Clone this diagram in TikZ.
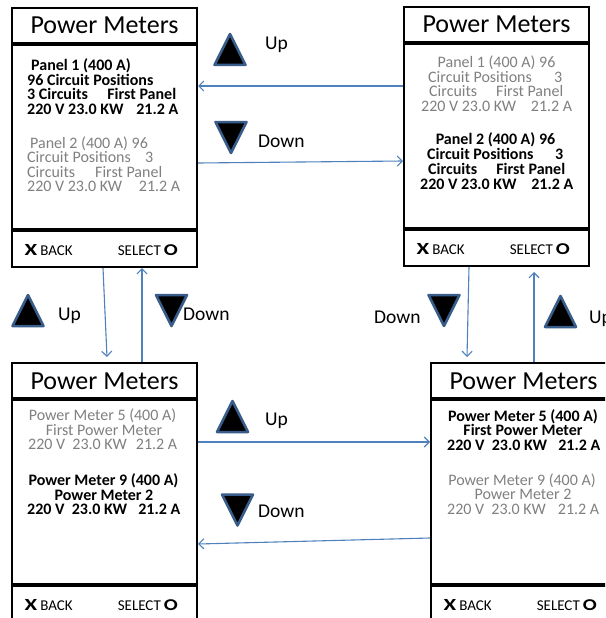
\documentclass[tikz,border=0pt]{standalone}
\usepackage{fontspec}
\setmainfont{Carlito}
\usepackage{graphicx}
\usetikzlibrary{calc,arrows.meta}
\definecolor{pmgray}{RGB}{128,128,128}
\definecolor{arrblue}{RGB}{79,129,189}
\definecolor{triblue}{RGB}{56,93,138}
\newcommand\pmbody{\fontsize{16}{17}\selectfont}
\newcommand\pmtitle{\fontsize{26}{28}\selectfont}
\newcommand\pmlabel{\fontsize{19.5}{20}\selectfont}
\newcommand\backtext{{\bfseries\fontsize{17}{17}\selectfont\scalebox{1.35}[1]{X}}\hspace{3pt}{\fontsize{15}{15}\selectfont BACK}}
\newcommand\seltext{{\fontsize{15}{15}\selectfont SELECT}\hspace{3pt}{\bfseries\fontsize{16.5}{16}\selectfont\scalebox{1.25}[1]{O}}}
\tikzset{
 screenbox/.style={draw=black, line width=2pt, minimum width=185pt, minimum height=259pt, inner sep=0pt, fill=white},
 sepline/.style={line width=4pt},
 ttl/.style={font=\pmtitle, inner sep=0pt, anchor=base},
 bl/.style={font=\pmbody\bfseries, inner sep=0pt, anchor=base west, text height=10pt, text depth=1pt},
 gl/.style={font=\pmbody, text=pmgray, inner sep=0pt, anchor=base west, text height=10pt, text depth=1pt},
 blc/.style={bl, anchor=base},
 glc/.style={gl, anchor=base},
 lbl/.style={font=\pmlabel, inner sep=0pt, anchor=base west},
 navarrow/.style={draw=arrblue, line width=1.1pt, -{Straight Barb[length=5pt,width=10pt]}},
 tri/.style={fill=black, draw=triblue, line width=2.5pt, line join=round},
 foot/.style={inner sep=0pt},
}
\newcommand\pmscreen[3]{%
  \node[screenbox] (#1) at (#2+92.5,#3+129.5) {};
  \draw[sepline] ($(#1.north west)+(0,37)$) -- ($(#1.north east)+(0,37)$);
  \draw[sepline] ($(#1.north west)+(0,223)$) -- ($(#1.north east)+(0,223)$);
  \node[ttl] (#1title) at ($(#1.north)+(0,27)$) {Power Meters};
  \node[foot, anchor=base west] (#1back) at ($(#1.north west)+(13.5,248)$) {\backtext};
  \node[foot, anchor=base east] (#1sel) at ($(#1.north east)+(-20,248)$) {\seltext};
}
\newcommand\uptri[2]{\draw[tri] (#1-15.5,#2+15.5) -- (#1+15.5,#2+15.5) -- (#1,#2-15.5) -- cycle;}
\newcommand\dntri[2]{\draw[tri] (#1-15.5,#2-15.5) -- (#1+15.5,#2-15.5) -- (#1,#2+15.5) -- cycle;}
\begin{document}
\begin{tikzpicture}[x=1pt,y=-1pt]
\useasboundingbox (0,0) rectangle (605,618);
\clip (0,0) rectangle (605,618);
\fill[white] (0,0) rectangle (605,618);
% screens
\pmscreen{s1}{12}{8}
\pmscreen{s2}{404}{7}
\pmscreen{s3}{12}{363}
\pmscreen{s4}{431}{363}
% screen 1 text
\node[bl] (s1a1) at (31,70.5) {Panel 1 (400 A)};
\node[bl] (s1a2) at (27,85) {96 Circuit Positions};
\node[bl] (s1a3) at (27,99.5) {\makebox[149pt][l]{3 Circuits\hfill First Panel}};
\node[bl] (s1a4) at (27,114) {\makebox[151pt][l]{220 V 23.0 KW\hfill 21.2 A}};
\node[gl] (s1b1) at (30,148) {Panel 2 (400 A) 96};
\node[gl] (s1b2) at (27,162.5) {\makebox[126pt][l]{Circuit Positions\hfill 3}};
\node[gl] (s1b3) at (27,177) {\makebox[135pt][l]{Circuits\hfill First Panel}};
\node[gl] (s1b4) at (27,191.5) {\makebox[153pt][l]{220 V 23.0 KW\hfill 21.2 A}};
% screen 2 text
\node[glc] (s2a1) at (496.5,67) {Panel 1 (400 A) 96};
\node[gl] (s2a2) at (428,82) {\makebox[134pt][l]{Circuit Positions\hfill 3}};
\node[gl] (s2a3) at (429,96.5) {\makebox[134pt][l]{Circuits\hfill First Panel}};
\node[gl] (s2a4) at (421,111) {\makebox[151pt][l]{220 V 23.0 KW\hfill 21.2 A}};
\node[blc] (s2b1) at (495.5,144) {Panel 2 (400 A) 96};
\node[bl] (s2b2) at (427,159) {\makebox[136pt][l]{Circuit Positions\hfill 3}};
\node[bl] (s2b3) at (428,174) {\makebox[137pt][l]{Circuits\hfill First Panel}};
\node[bl] (s2b4) at (420,189) {\makebox[153pt][l]{220 V 23.0 KW\hfill 21.2 A}};
% screen 3 text
\node[glc] (s3a1) at (102.5,420) {Power Meter 5 (400 A)};
\node[glc] (s3a2) at (104,435) {First Power Meter};
\node[gl] (s3a3) at (28,449.5) {\makebox[149pt][l]{220 V\ \ 23.0 KW\hfill 21.2 A}};
\node[blc] (s3b1) at (103.5,485) {Power Meter 9 (400 A)};
\node[blc] (s3b2) at (104,500) {Power Meter 2};
\node[bl] (s3b3) at (27,514.5) {\makebox[153pt][l]{220 V\ \ 23.0 KW\hfill 21.2 A}};
% screen 4 text
\node[blc] (s4a1) at (523,421) {Power Meter 5 (400 A)};
\node[blc] (s4a2) at (523,435.5) {First Power Meter};
\node[bl] (s4a3) at (447,450) {\makebox[153pt][l]{220 V\ \ 23.0 KW\hfill 21.2 A}};
\node[glc] (s4b1) at (522,485) {Power Meter 9 (400 A)};
\node[glc] (s4b2) at (523,499.5) {Power Meter 2};
\node[gl] (s4b3) at (447,514) {\makebox[152pt][l]{220 V\ \ 23.0 KW\hfill 21.2 A}};
% connectors
\draw[navarrow] ($(s2.north west)+(0,80)$) -- ($(s1.north east)+(0,79)$);
\draw[navarrow] ($(s1.north east)+(0,156)$) -- ($(s2.north west)+(0,155)$);
\draw[navarrow] ($(s1.south west)+(92,0)$) -- ($(s3.north west)+(96,-5)$);
\draw[navarrow] ($(s3.north west)+(131,0)$) -- ($(s1.south west)+(131,0)$);
\draw[navarrow] ($(s2.south west)+(66,0)$) -- ($(s4.north west)+(37,-5)$);
\draw[navarrow] ($(s4.north west)+(104,0)$) -- ($(s2.south west)+(131,5)$);
\draw[navarrow] ($(s3.north east)+(0,80)$) -- ($(s4.north west)+(0,80)$);
\draw[navarrow] ($(s4.north west)+(0,176)$) -- ($(s3.north east)+(0,182)$);
% key markers
\uptri{230}{49.5}
\dntri{231}{137.5}
\uptri{28}{310.5}
\dntri{171.5}{310.5}
\dntri{444}{310.5}
\uptri{560.5}{311.5}
\uptri{232.5}{416.5}
\dntri{237.5}{510}
% labels
\node[lbl] (u1) at (265,50) {Up};
\node[lbl] (d1) at (258,147) {Down};
\node[lbl] (u2) at (58,320) {Up};
\node[lbl] (d2) at (183,320) {Down};
\node[lbl] (d3) at (374,323) {Down};
\node[lbl] (u3) at (589,323) {Up};
\node[lbl] (u4) at (265,425) {Up};
\node[lbl] (d4) at (258,517) {Down};
\end{tikzpicture}
\end{document}
